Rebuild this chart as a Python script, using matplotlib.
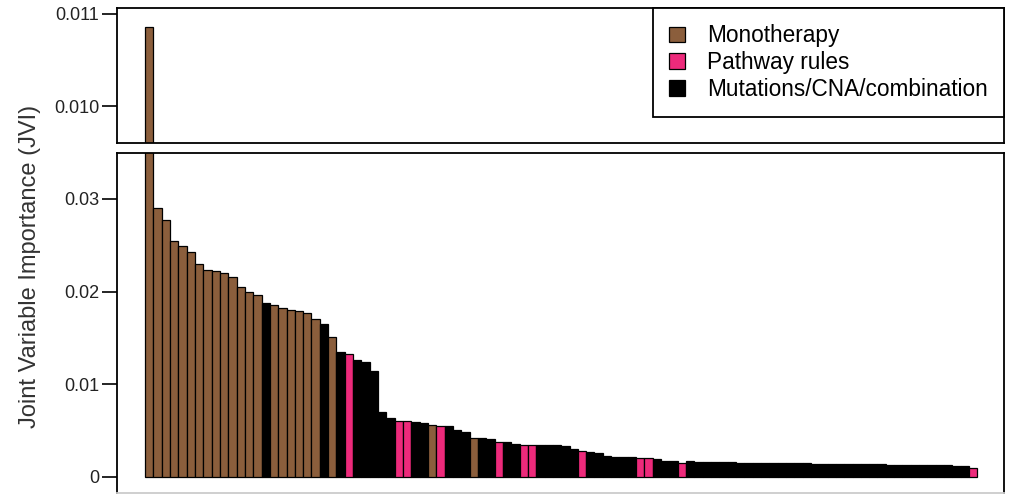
import matplotlib.pyplot as plt
from matplotlib.patches import Patch

# JVI per feature, sorted (first value belongs to the broken upper panel)
JVI = [
    0.1086, 0.0290, 0.0277, 0.0255, 0.0249, 0.0243, 0.0230, 0.0223, 0.0222, 0.0220,
    0.0216, 0.0205, 0.0200, 0.0196, 0.0188, 0.0186, 0.0182, 0.0180, 0.0179, 0.0177,
    0.0170, 0.0165, 0.0151, 0.0135, 0.0133, 0.0126, 0.0124, 0.0114, 0.0070, 0.0064,
    0.0060, 0.0060, 0.0059, 0.0058, 0.0056, 0.0055, 0.0055, 0.0051, 0.0048, 0.0042,
    0.0042, 0.0041, 0.0038, 0.0038, 0.0036, 0.0035, 0.0035, 0.0035, 0.0035, 0.0034,
    0.0033, 0.0030, 0.0028, 0.0027, 0.0026, 0.0023, 0.0022, 0.0022, 0.0021, 0.0020,
    0.0020, 0.0019, 0.0017, 0.0017, 0.0015, 0.0017, 0.0016, 0.0016, 0.0016, 0.00158,
    0.00157, 0.00155, 0.00155, 0.00153, 0.00152, 0.00150, 0.00150, 0.00148, 0.00147, 0.00146,
    0.00145, 0.00144, 0.00142, 0.00142, 0.00140, 0.00139, 0.00138, 0.00137, 0.00136, 0.00134,
    0.00133, 0.00132, 0.00130, 0.00129, 0.00128, 0.00126, 0.00125, 0.00123, 0.00121, 0.00095,
]
# M = monotherapy, P = pathway rules, C = mutations/CNA/combination (10 per chunk)
GROUP = list(
    "MMMMMMMMMM" "MMMMCMMMMM" "MCMCPCCCCC" "PPCCMPCCCM" "CCPCCPPCCC"
    "CCPCCCCCCP" "PCCCPCCCCC" "CCCCCCCCCC" "CCCCCCCCCC" "CCCCCCCCCP"
)
GROUP_NAMES = {'M': 'Monotherapy', 'P': 'Pathway rules', 'C': 'Mutations/CNA/combination'}
GROUP_COLORS = {'M': '#8b5e3c', 'P': '#ed2a7b', 'C': '#000000'}

TOP_TICKS = [0.10, 0.11]
TOP_TICK_LABELS = ['0.010', '0.011']
BOTTOM_TICKS = [0, 0.01, 0.02, 0.03]
BOTTOM_TICK_LABELS = ['0', '0.01', '0.02', '0.03']

plt.rcParams['font.family'] = ['Liberation Sans', 'DejaVu Sans']

W, H = 1012, 495
fig = plt.figure(figsize=(W / 100, H / 100), dpi=100)
ax_top = fig.add_axes([116.7 / W, (H - 143) / H, 887.3 / W, 135 / H])
ax_bot = fig.add_axes([116.7 / W, (H - 493) / H, 887.3 / W, 340.5 / H])

x = list(range(len(JVI)))
colors = [GROUP_COLORS[g] for g in GROUP]
for ax in (ax_top, ax_bot):
    ax.bar(x, JVI, width=1.0, color=colors, edgecolor='black', linewidth=0.9)
    ax.set_xlim(-3.9, 102.7)
    ax.set_xticks([])
    ax.tick_params(axis='y', length=11, width=1.2, pad=1.5, labelsize=13, direction='out',
                   labelcolor='#222222')
    for s in ax.spines.values():
        s.set_linewidth(1.3)

ax_top.set_ylim(0.09598, 0.11065)
ax_top.set_yticks(TOP_TICKS)
ax_top.set_yticklabels(TOP_TICK_LABELS)

ax_bot.set_ylim(-0.00173, 0.0350)
ax_bot.set_yticks(BOTTOM_TICKS)
ax_bot.set_yticklabels(BOTTOM_TICK_LABELS)
ax_bot.spines['bottom'].set_color('#cccccc')

fig.text(30 / W, 1 - 266 / H, 'Joint Variable Importance (JVI)', rotation=90,
         ha='center', va='center', fontsize=17, color='#333333')

handles = [Patch(facecolor=GROUP_COLORS[k], edgecolor='black', linewidth=0.9, label=GROUP_NAMES[k])
           for k in ['M', 'P', 'C']]
leg = ax_top.legend(handles=handles, loc='upper right', borderaxespad=0, fontsize=16.3,
                    handlelength=0.72, handleheight=0.68, handletextpad=0.95,
                    borderpad=0.72, labelspacing=0.17, fancybox=False, framealpha=1)
leg.get_frame().set_edgecolor('black')
leg.get_frame().set_linewidth(1.3)

fig.savefig('out.png', dpi=100)
